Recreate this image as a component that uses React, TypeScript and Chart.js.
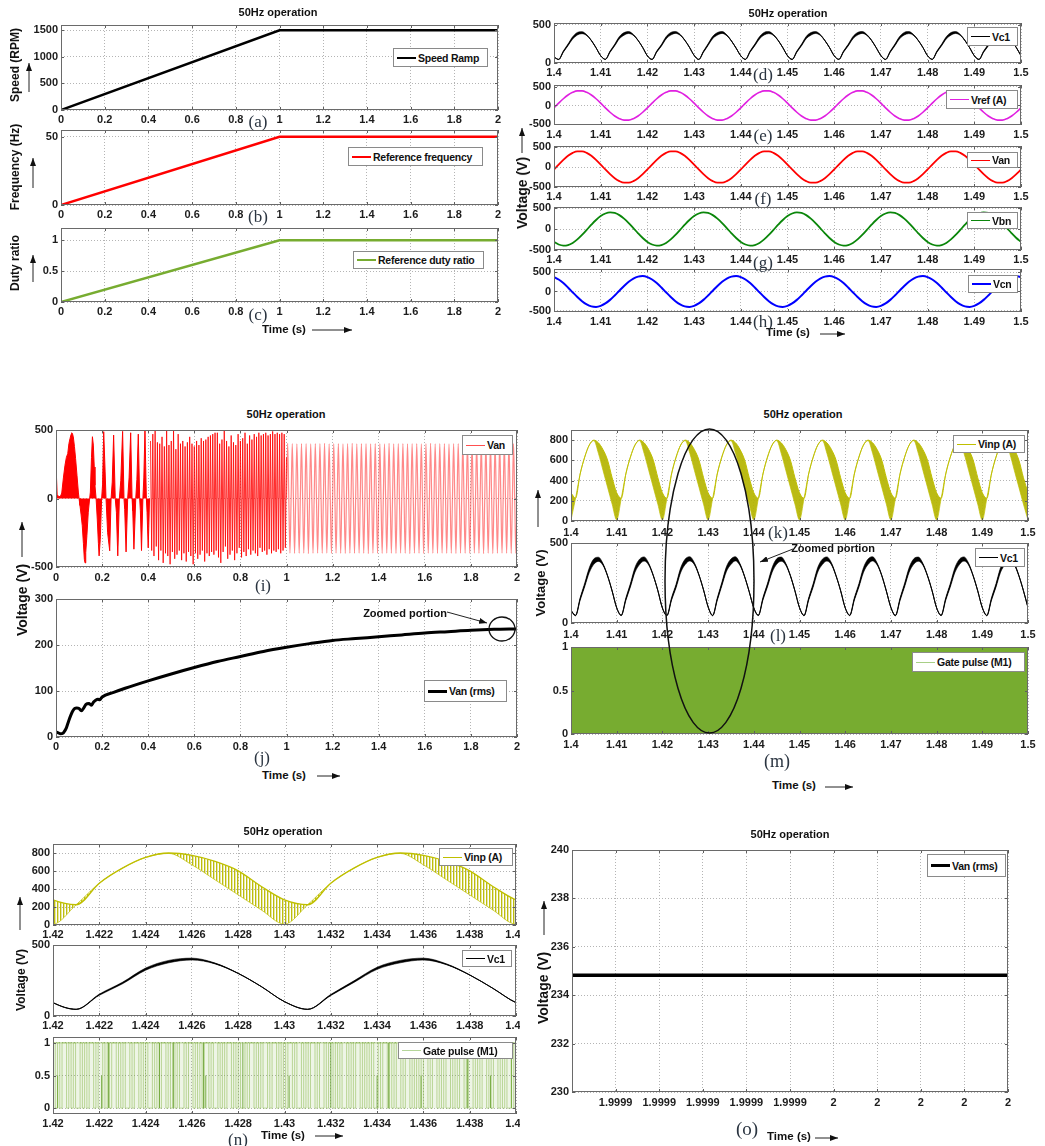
import React, { useEffect, useRef } from 'react';
import { Chart, registerables } from 'chart.js';

Chart.register(...registerables);

const SANS = "'Liberation Sans', Arial, Helvetica, sans-serif";
const SERIF = "'Liberation Serif', 'Times New Roman', serif";
Chart.defaults.font.family = SANS;

// ---------------- data ----------------
const T_RAMP = [0, 1, 2];
const SPEED_RPM = [0, 1500, 1500];
const FREQ_HZ = [0, 50, 50];
const DUTY_RATIO = [0, 1, 1];

const TICKS_0_2 = [0, 0.2, 0.4, 0.6, 0.8, 1, 1.2, 1.4, 1.6, 1.8, 2];
const LABELS_0_2 = ['0', '0.2', '0.4', '0.6', '0.8', '1', '1.2', '1.4', '1.6', '1.8', '2'];
const TICKS_14_15 = [1.4, 1.41, 1.42, 1.43, 1.44, 1.45, 1.46, 1.47, 1.48, 1.49, 1.5];
const LABELS_14_15 = ['1.4', '1.41', '1.42', '1.43', '1.44', '1.45', '1.46', '1.47', '1.48', '1.49', '1.5'];
const TICKS_142_144 = [1.42, 1.422, 1.424, 1.426, 1.428, 1.43, 1.432, 1.434, 1.436, 1.438, 1.44];
const LABELS_142_144 = ['1.42', '1.422', '1.424', '1.426', '1.428', '1.43', '1.432', '1.434', '1.436', '1.438', '1.44'];
const TICKS_O = [1.999905, 1.999915, 1.999925, 1.999935, 1.999945, 1.999955, 1.999965, 1.999975, 1.999985, 1.999995];
const LABELS_O = ['1.9999', '1.9999', '1.9999', '1.9999', '1.9999', '2', '2', '2', '2', '2'];

// sampling grid of the 1.4 - 1.5 s traces
const FINE_T0 = 1.4;
const FINE_DT = 0.001;

const VC1 = [
  78, 47, 150, 238, 330, 384, 398, 366, 295, 200,
  95, 48, 148, 236, 332, 382, 400, 368, 297, 203,
  94, 47, 150, 232, 330, 383, 401, 370, 300, 207,
  101, 47, 148, 242, 336, 383, 401, 364, 289, 195,
  94, 48, 151, 237, 331, 384, 399, 367, 296, 201,
  96, 47, 149, 236, 333, 382, 400, 369, 295, 202,
  95, 48, 150, 235, 331, 383, 401, 368, 297, 200,
  97, 47, 148, 237, 332, 384, 399, 367, 296, 203,
  95, 48, 150, 236, 330, 382, 400, 368, 295, 201,
  96, 47, 149, 235, 332, 383, 400, 369, 296, 202,
  96,
];
const VC1_RIPPLE = [
  1, 2, 8, 11, 15, 17, 13, 6, 2, 1,
  1, 2, 8, 11, 15, 17, 13, 6, 2, 1,
  1, 2, 8, 11, 15, 17, 13, 6, 2, 1,
  1, 2, 8, 11, 15, 17, 13, 6, 2, 1,
  1, 2, 8, 11, 15, 17, 13, 6, 2, 1,
  1, 2, 8, 11, 15, 17, 13, 6, 2, 1,
  1, 2, 8, 11, 15, 17, 13, 6, 2, 1,
  1, 2, 8, 11, 15, 17, 13, 6, 2, 1,
  1, 2, 8, 11, 15, 17, 13, 6, 2, 1,
  1, 2, 8, 11, 15, 17, 13, 6, 2, 1,
  1,
];
const VREF_A = [
  -63, 63, 182, 283, 356, 395, 395, 356, 283, 182, 63, -63, -182, -283, -356, -395, -395, -356, -283, -182,
  -63, 63, 182, 283, 356, 395, 395, 356, 283, 182, 63, -63, -182, -283, -356, -395, -395, -356, -283, -182,
  -63, 63, 182, 283, 356, 395, 395, 356, 283, 182, 63, -63, -182, -283, -356, -395, -395, -356, -283, -182,
  -63, 63, 182, 283, 356, 395, 395, 356, 283, 182, 63, -63, -182, -283, -356, -395, -395, -356, -283, -182,
  -63, 63, 182, 283, 356, 395, 395, 356, 283, 182, 63, -63, -182, -283, -356, -395, -395, -356, -283, -182,
  -63,
];
const VAN = [
  -62, 62, 179, 279, 352, 390, 390, 352, 279, 179, 62, -62, -179, -279, -352, -390, -390, -352, -279, -179,
  -62, 62, 179, 279, 352, 390, 390, 352, 279, 179, 62, -62, -179, -279, -352, -390, -390, -352, -279, -179,
  -62, 62, 179, 279, 352, 390, 390, 352, 279, 179, 62, -62, -179, -279, -352, -390, -390, -352, -279, -179,
  -62, 62, 179, 279, 352, 390, 390, 352, 279, 179, 62, -62, -179, -279, -352, -390, -390, -352, -279, -179,
  -62, 62, 179, 279, 352, 390, 390, 352, 279, 179, 62, -62, -179, -279, -352, -390, -390, -352, -279, -179,
  -62,
];
const VBN = [
  -307, -369, -395, -382, -331, -248, -141, -21, 102, 215, 307, 369, 395, 382, 331, 248, 141, 21, -102, -215,
  -307, -369, -395, -382, -331, -248, -141, -21, 102, 215, 307, 369, 395, 382, 331, 248, 141, 21, -102, -215,
  -307, -369, -395, -382, -331, -248, -141, -21, 102, 215, 307, 369, 395, 382, 331, 248, 141, 21, -102, -215,
  -307, -369, -395, -382, -331, -248, -141, -21, 102, 215, 307, 369, 395, 382, 331, 248, 141, 21, -102, -215,
  -307, -369, -395, -382, -331, -248, -141, -21, 102, 215, 307, 369, 395, 382, 331, 248, 141, 21, -102, -215,
  -307,
];
const VCN = [
  369, 307, 215, 102, -21, -141, -248, -331, -382, -395, -369, -307, -215, -102, 21, 141, 248, 331, 382, 395,
  369, 307, 215, 102, -21, -141, -248, -331, -382, -395, -369, -307, -215, -102, 21, 141, 248, 331, 382, 395,
  369, 307, 215, 102, -21, -141, -248, -331, -382, -395, -369, -307, -215, -102, 21, 141, 248, 331, 382, 395,
  369, 307, 215, 102, -21, -141, -248, -331, -382, -395, -369, -307, -215, -102, 21, 141, 248, 331, 382, 395,
  369, 307, 215, 102, -21, -141, -248, -331, -382, -395, -369, -307, -215, -102, 21, 141, 248, 331, 382, 395,
  369,
];
const VINP_UPPER = [
  279, 225, 465, 632, 751, 800, 773, 706, 602, 428,
  279, 225, 465, 632, 751, 800, 773, 706, 602, 428,
  279, 225, 465, 632, 751, 800, 773, 706, 602, 428,
  279, 225, 465, 632, 751, 800, 773, 706, 602, 428,
  279, 225, 465, 632, 751, 800, 773, 706, 602, 428,
  279, 225, 465, 632, 751, 800, 773, 706, 602, 428,
  279, 225, 465, 632, 751, 800, 773, 706, 602, 428,
  279, 225, 465, 632, 751, 800, 773, 706, 602, 428,
  279, 225, 465, 632, 751, 800, 773, 706, 602, 428,
  279, 225, 465, 632, 751, 800, 773, 706, 602, 428,
  279,
];
const VINP_LOWER = [
  10, 225, 465, 632, 751, 795, 669, 502, 335, 167,
  10, 225, 465, 632, 751, 795, 669, 502, 335, 167,
  10, 225, 465, 632, 751, 795, 669, 502, 335, 167,
  10, 225, 465, 632, 751, 795, 669, 502, 335, 167,
  10, 225, 465, 632, 751, 795, 669, 502, 335, 167,
  10, 225, 465, 632, 751, 795, 669, 502, 335, 167,
  10, 225, 465, 632, 751, 795, 669, 502, 335, 167,
  10, 225, 465, 632, 751, 795, 669, 502, 335, 167,
  10, 225, 465, 632, 751, 795, 669, 502, 335, 167,
  10, 225, 465, 632, 751, 795, 669, 502, 335, 167,
  10,
];

// gate pulse M1 (1.4 - 1.5 s: pulses too dense to resolve -> solid band)
const GATE_M_T = [1.4, 1.5];
const GATE_M_V = [1, 1];
// gate pulse M1, zoomed 1.42 - 1.44 s
const GATE_T0 = 1.42;
const GATE_SPAN = 0.02;
const GATE_PATTERN =
  '10101101010010101101001010110101001011010100101011010101001011010101101001010110101001011010100101101010' +
  '110100101011010010110101001010110101010010110101001011010101001011010100101011010010101101011010100101';
const GATE_DARK_T = [1.4202, 1.4221, 1.4224, 1.4246, 1.4252, 1.4265, 1.4266, 1.4282, 1.4302, 1.432, 1.434, 1.4345, 1.4359, 1.4379, 1.4389, 1.4398];
const GATE_DARK_H = [0.5, 0.5, 1, 1, 1, 1, 0.5, 1, 0.5, 1, 0.5, 1, 0.5, 1, 0.5, 1];

// Van, 0 - 2 s
const VAN_START: [number, number][] = [
  [0, 0], [0.002, 160], [0.005, 30], [0.012, 12], [0.02, 18], [0.025, 40], [0.032, 150], [0.039, 243],
  [0.045, 300], [0.051, 328], [0.056, 400], [0.061, 439], [0.066, 470], [0.068, 480], [0.071, 475],
  [0.075, 451], [0.08, 380], [0.085, 292], [0.091, 170], [0.097, 47], [0.1, 0], [0.104, -51],
  [0.109, -120], [0.114, -199], [0.119, -330], [0.123, -444], [0.126, -470], [0.129, -395], [0.134, -272],
  [0.14, -100], [0.146, 0], [0.149, 47], [0.154, 300], [0.158, 451], [0.162, 390], [0.166, 230],
  [0.169, 96], [0.174, 0], [0.179, -150], [0.184, -330], [0.187, -419], [0.192, -300], [0.198, 0],
  [0.202, 100], [0.207, 488], [0.213, 200], [0.217, 0], [0.224, -250], [0.233, -382], [0.239, 0],
  [0.244, 120], [0.25, 463], [0.257, 0], [0.262, -100], [0.268, -419], [0.275, 0], [0.281, 130],
  [0.289, 490], [0.295, 0], [0.298, -80], [0.304, -390], [0.311, 0], [0.317, 150], [0.324, 480],
  [0.33, 0], [0.333, -90], [0.338, -370], [0.346, 0], [0.351, 140], [0.357, 470], [0.363, 0],
  [0.366, -90], [0.371, -380], [0.377, 0], [0.381, 150], [0.386, 500], [0.392, 0], [0.395, -100],
  [0.4, -360], [0.406, 0],
];
const VAN_MID_T0 = 0.41;
const VAN_MID_DT = 0.005;
const VAN_MID = [
  420, -380, 470, -420, 500, -350, 410, -450, 400, -380,
  450, -470, 380, -400, 500, -420, 390, -480, 420, -390,
  500, -440, 360, -410, 470, -380, 400, -450, 420, -400,
  380, -460, 410, -390, 450, -420, 400, -480, 380, -400,
  420, -440, 390, -410, 440, -380, 420, -460, 430, -400,
  450, -420, 460, -390, 470, -410, 480, -380, 480, -430,
  400, -470, 430, -390, 500, -350, 420, -440, 380, -410,
  460, -380, 410, -450, 390, -400, 470, -360, 420, -430,
  440, -390, 480, -420, 400, -370, 460, -410, 430, -380,
  470, -400, 450, -420, 480, -360, 460, -390, 470, -380,
  480, -410, 460, -370, 470, -400, 490, -380, 470, -390,
  480, -370, 470, -400, 480, -380, 470, -360, 300,
];
const VAN_LATE_T0 = 1.0;
const VAN_LATE_DT = 0.005;
const VAN_LATE = [
  0, 402, 0, -398, 0, 400, 0, -401, 0, 399, 0, -400, 0, 401, 0, -399, 0, 400, 0, -402,
  0, 398, 0, -400, 0, 401, 0, -399, 0, 400, 0, -400, 0, 402, 0, -398, 0, 399, 0, -401,
  0, 400, 0, -399, 0, 401, 0, -400, 0, 398, 0, -401, 0, 400, 0, -399, 0, 402, 0, -400,
  0, 399, 0, -398, 0, 401, 0, -400, 0, 400, 0, -402, 0, 399, 0, -399, 0, 401, 0, -400,
  0, 400, 0, -401, 0, 398, 0, -399, 0, 402, 0, -400, 0, 399, 0, -401, 0, 400, 0, -398,
  0, 401, 0, -400, 0, 399, 0, -402, 0, 400, 0, -399, 0, 401, 0, -400, 0, 398, 0, -401,
  0, 400, 0, -399, 0, 402, 0, -400, 0, 399, 0, -401, 0, 400, 0, -398, 0, 401, 0, -400,
  0, 398, 0, -400, 0, 400, 0, -401, 0, 401, 0, -399, 0, 402, 0, -400, 0, 399, 0, -400,
  0, 401, 0, -398, 0, 400, 0, -400, 0, 399, 0, -402, 0, 400, 0, -399, 0, 401, 0, -401,
  0, 400, 0, -400, 0, 398, 0, -399, 0, 402, 0, -400, 0, 399, 0, -401, 0, 400, 0, -399,
  0,
];
const VAN_RMS: [number, number][] = [
  [0, 11], [0.01, 9], [0.02, 7], [0.03, 8], [0.035, 11], [0.045, 20], [0.055, 35], [0.064, 47],
  [0.072, 56], [0.081, 62], [0.09, 63], [0.1, 62], [0.11, 57], [0.12, 63], [0.13, 71], [0.143, 73],
  [0.153, 69], [0.163, 76], [0.172, 80], [0.182, 82], [0.19, 81], [0.2, 87], [0.25, 97], [0.3, 106],
  [0.4, 122], [0.5, 137], [0.6, 151], [0.7, 164], [0.8, 175], [0.9, 186], [1.0, 195], [1.1, 203],
  [1.2, 210], [1.3, 214], [1.4, 218], [1.5, 222], [1.6, 226], [1.7, 229], [1.8, 232], [1.9, 234], [2.0, 235],
];
const VAN_RMS_ZOOM_T = [1.999895, 1.999995];
const VAN_RMS_ZOOM = [234.82, 234.82];

// ---------------- helpers ----------------
const PT = 10;
const PR = 30;
const YW = 50;
const XH = 24;
const GRID_COLOR = '#b4b4b4';
const TICK_COLOR = '#1c1c1c';
const OLIVE = '#bfbf00';
const GATE_GREEN = '#77ac30';

const pts = (ts: number[], vs: number[]) => ts.map((t, i) => ({ x: t, y: vs[i] }));
const gridPts = (t0: number, dt: number, vs: number[]) => vs.map((v, i) => ({ x: t0 + i * dt, y: v }));
const pairPts = (p: [number, number][]) => p.map(([x, y]) => ({ x, y }));

function lineDS(data: any[], color: string, width: number, extra: any = {}) {
  return {
    data,
    borderColor: color,
    backgroundColor: color,
    borderWidth: width,
    pointRadius: 0,
    fill: false,
    cubicInterpolationMode: 'monotone',
    ...extra,
  };
}

function vc1Sets(centerW: number, rippleScale: number) {
  const up = VC1.map((v, i) => v + VC1_RIPPLE[i] * rippleScale);
  const lo = VC1.map((v, i) => v - VC1_RIPPLE[i] * rippleScale);
  return [
    lineDS(gridPts(FINE_T0, FINE_DT, up), '#000', 0.6),
    lineDS(gridPts(FINE_T0, FINE_DT, lo), '#000', 0.6, { fill: '-1', backgroundColor: '#000' }),
    lineDS(gridPts(FINE_T0, FINE_DT, VC1), '#000', centerW),
  ];
}

function hatch(): any {
  const c = document.createElement('canvas');
  c.width = 3;
  c.height = 1;
  const g = c.getContext('2d')!;
  g.fillStyle = 'rgba(185,185,0,0.95)';
  g.fillRect(0, 0, 1, 1);
  g.fillStyle = 'rgba(185,185,0,0.35)';
  g.fillRect(1, 0, 1, 1);
  return g.createPattern(c, 'repeat');
}

function vinpSets(bg: any, lw: number) {
  return [
    lineDS(gridPts(FINE_T0, FINE_DT, VINP_UPPER), OLIVE, lw),
    lineDS(gridPts(FINE_T0, FINE_DT, VINP_LOWER), OLIVE, 0.7, { fill: '-1', backgroundColor: bg }),
  ];
}

function gateZoomSets() {
  const n = GATE_PATTERN.length;
  const dt = GATE_SPAN / (n - 1);
  const pattern = GATE_PATTERN.split('').map((c, i) => ({ x: GATE_T0 + i * dt, y: c === '1' ? 1 : 0 }));
  const dark: any[] = [];
  GATE_DARK_T.forEach((t, i) => {
    dark.push({ x: t, y: 0 }, { x: t, y: GATE_DARK_H[i] }, { x: t, y: null });
  });
  return [
    lineDS(pts([GATE_T0, GATE_T0 + GATE_SPAN], [1, 1]), 'rgba(119,172,48,0.55)', 1, {
      fill: 'origin',
      backgroundColor: 'rgba(119,172,48,0.12)',
      cubicInterpolationMode: 'default',
    }),
    lineDS(pattern, 'rgba(119,172,48,0.45)', 1, { stepped: true, cubicInterpolationMode: 'default' }),
    lineDS(dark, 'rgba(100,158,45,0.85)', 1, { cubicInterpolationMode: 'default', spanGaps: false }),
  ];
}

type PanelSpec = {
  key: string;
  x: number;
  y: number;
  w: number;
  h: number;
  xMin: number;
  xMax: number;
  xTicks: number[];
  xLabels: string[];
  yMin: number;
  yMax: number;
  yTicks: number[];
  yLabels: string[];
  xPad?: number;
  datasets: () => any[];
};

const framePlugin = {
  id: 'matlabFrame',
  afterDatasetsDraw(chart: any) {
    const { ctx, chartArea: a, scales } = chart;
    ctx.save();
    ctx.strokeStyle = '#5e5e5e';
    ctx.lineWidth = 1;
    ctx.beginPath();
    for (const t of scales.x.ticks) {
      const px = Math.round(scales.x.getPixelForValue(t.value)) + 0.5;
      ctx.moveTo(px, a.bottom);
      ctx.lineTo(px, a.bottom - 3);
      ctx.moveTo(px, a.top);
      ctx.lineTo(px, a.top + 3);
    }
    for (const t of scales.y.ticks) {
      const py = Math.round(scales.y.getPixelForValue(t.value)) + 0.5;
      ctx.moveTo(a.left, py);
      ctx.lineTo(a.left + 3, py);
      ctx.moveTo(a.right, py);
      ctx.lineTo(a.right - 3, py);
    }
    ctx.stroke();
    ctx.strokeStyle = '#6a6a6a';
    ctx.strokeRect(Math.round(a.left) + 0.5, Math.round(a.top) + 0.5, Math.round(a.right - a.left) - 1, Math.round(a.bottom - a.top) - 1);
    ctx.restore();
  },
};

function buildConfig(p: PanelSpec): any {
  const font = { family: SANS, size: 11, weight: 'bold' };
  return {
    type: 'line',
    data: { datasets: p.datasets() },
    options: {
      animation: false,
      responsive: false,
      events: [],
      layout: { padding: { top: PT, right: PR, bottom: 0, left: 0 } },
      plugins: { legend: { display: false }, tooltip: { enabled: false }, title: { display: false } },
      elements: { point: { radius: 0 } },
      scales: {
        x: {
          type: 'linear',
          min: p.xMin,
          max: p.xMax,
          afterBuildTicks: (s: any) => {
            s.ticks = p.xTicks.map((v) => ({ value: v }));
          },
          afterFit: (s: any) => {
            s.height = XH;
            s.paddingLeft = 0;
            s.paddingRight = 0;
          },
          ticks: {
            autoSkip: false,
            maxRotation: 0,
            minRotation: 0,
            padding: p.xPad ?? 4,
            font,
            color: TICK_COLOR,
            callback: (_v: any, i: number) => p.xLabels[i],
          },
          grid: { color: GRID_COLOR, lineWidth: 1, drawTicks: false },
          border: { display: false, dash: [1, 2] },
        },
        y: {
          type: 'linear',
          min: p.yMin,
          max: p.yMax,
          afterBuildTicks: (s: any) => {
            s.ticks = p.yTicks.map((v) => ({ value: v }));
          },
          afterFit: (s: any) => {
            s.width = YW;
            s.paddingTop = 0;
            s.paddingBottom = 0;
          },
          ticks: {
            autoSkip: false,
            padding: 3,
            font,
            color: TICK_COLOR,
            callback: (_v: any, i: number) => p.yLabels[i],
          },
          grid: { color: GRID_COLOR, lineWidth: 1, drawTicks: false },
          border: { display: false, dash: [1, 2] },
        },
      },
    },
    plugins: [framePlugin],
  };
}

function ChartPanel({ spec }: { spec: PanelSpec }) {
  const ref = useRef<HTMLCanvasElement | null>(null);
  useEffect(() => {
    const chart = new Chart(ref.current as HTMLCanvasElement, buildConfig(spec));
    return () => chart.destroy();
  }, [spec]);
  const w = spec.w + YW + PR;
  const h = spec.h + PT + XH;
  return (
    <canvas
      ref={ref}
      width={w}
      height={h}
      style={{ position: 'absolute', left: spec.x - YW, top: spec.y - PT, width: w, height: h }}
    />
  );
}

// ---------------- panels ----------------
const TL = { x: 61, w: 437 };
const TR = { x: 554, w: 467 };
const ML = { x: 56, w: 461 };
const MR = { x: 571, w: 457 };
const BL = { x: 53, w: 463 };
const BR = { x: 572, w: 436 };

const x02 = { xMin: 0, xMax: 2, xTicks: TICKS_0_2, xLabels: LABELS_0_2 };
const x1415 = { xMin: 1.4, xMax: 1.5, xTicks: TICKS_14_15, xLabels: LABELS_14_15 };
const x142 = { xMin: 1.42, xMax: 1.44, xTicks: TICKS_142_144, xLabels: LABELS_142_144 };
const yPM500 = { yTicks: [-500, 0, 500], yLabels: ['-500', '0', '500'] };
const y0800 = { yMin: 0, yMax: 900, yTicks: [0, 200, 400, 600, 800], yLabels: ['0', '200', '400', '600', '800'] };

const LEFT_PANELS: PanelSpec[] = [
  {
    key: 'a', ...TL, y: 25, h: 85, ...x02, xPad: 3,
    yMin: 0, yMax: 1600, yTicks: [0, 500, 1000, 1500], yLabels: ['0', '500', '1000', '1500'],
    datasets: () => [lineDS(pts(T_RAMP, SPEED_RPM), '#000', 2.5, { cubicInterpolationMode: 'default' })],
  },
  {
    key: 'b', ...TL, y: 130, h: 75, ...x02, xPad: 3,
    yMin: 0, yMax: 55, yTicks: [0, 50], yLabels: ['0', '50'],
    datasets: () => [lineDS(pts(T_RAMP, FREQ_HZ), '#ff0000', 2.5, { cubicInterpolationMode: 'default' })],
  },
  {
    key: 'c', ...TL, y: 228, h: 74, ...x02, xPad: 3,
    yMin: 0, yMax: 1.2, yTicks: [0, 0.5, 1], yLabels: ['0', '0.5', '1'],
    datasets: () => [lineDS(pts(T_RAMP, DUTY_RATIO), GATE_GREEN, 2.5, { cubicInterpolationMode: 'default' })],
  },
  {
    key: 'i', ...ML, y: 430, h: 137, ...x02, xPad: 4,
    yMin: -500, yMax: 500, ...yPM500,
    datasets: () => [
      lineDS(pairPts(VAN_START), '#ff0000', 1, { fill: 'origin', backgroundColor: '#ff0000', cubicInterpolationMode: 'default' }),
      lineDS(gridPts(VAN_MID_T0, VAN_MID_DT, VAN_MID), 'rgba(255,0,0,0.8)', 1, {
        fill: 'origin',
        backgroundColor: 'rgba(255,0,0,0.3)',
        cubicInterpolationMode: 'default',
      }),
      lineDS(gridPts(VAN_LATE_T0, VAN_LATE_DT, VAN_LATE), 'rgba(255,40,40,0.55)', 1.2),
    ],
  },
  {
    key: 'j', ...ML, y: 599, h: 138, ...x02, xPad: 3,
    yMin: 0, yMax: 300, yTicks: [0, 100, 200, 300], yLabels: ['0', '100', '200', '300'],
    datasets: () => [lineDS(pairPts(VAN_RMS), '#000', 3)],
  },
  {
    key: 'n1', ...BL, y: 844, h: 81, ...x142, xPad: 3, ...y0800,
    datasets: () => vinpSets(hatch(), 1.3),
  },
  {
    key: 'n2', ...BL, y: 945, h: 71, ...x142, xPad: 3,
    yMin: 0, yMax: 500, yTicks: [0, 500], yLabels: ['0', '500'],
    datasets: () => vc1Sets(1, 0.5),
  },
  {
    key: 'n3', ...BL, y: 1037, h: 77, ...x142, xPad: 3,
    yMin: -0.09, yMax: 1.09, yTicks: [0, 0.5, 1], yLabels: ['0', '0.5', '1'],
    datasets: gateZoomSets,
  },
];

const RIGHT_PANELS: PanelSpec[] = [
  {
    key: 'd', ...TR, y: 23, h: 40, ...x1415, xPad: 3,
    yMin: 0, yMax: 525, yTicks: [0, 500], yLabels: ['0', '500'],
    datasets: () => vc1Sets(1, 1),
  },
  {
    key: 'e', ...TR, y: 85, h: 40, ...x1415, xPad: 3,
    yMin: -527, yMax: 554, ...yPM500,
    datasets: () => [lineDS(gridPts(FINE_T0, FINE_DT, VREF_A), '#e020e0', 1.6)],
  },
  {
    key: 'f', ...TR, y: 146, h: 41, ...x1415, xPad: 3,
    yMin: -500, yMax: 525, ...yPM500,
    datasets: () => [lineDS(gridPts(FINE_T0, FINE_DT, VAN), '#ff0000', 1.8)],
  },
  {
    key: 'g', ...TR, y: 207, h: 43, ...x1415, xPad: 3,
    yMin: -500, yMax: 524, ...yPM500,
    datasets: () => [lineDS(gridPts(FINE_T0, FINE_DT, VBN), '#0a860a', 1.8)],
  },
  {
    key: 'h', ...TR, y: 269, h: 43, ...x1415, xPad: 3,
    yMin: -526, yMax: 577, ...yPM500,
    datasets: () => [lineDS(gridPts(FINE_T0, FINE_DT, VCN), '#0000ff', 2)],
  },
  {
    key: 'k', ...MR, y: 430, h: 91, ...x1415, xPad: 5, ...y0800,
    datasets: () => vinpSets('rgba(180,180,0,0.92)', 1),
  },
  {
    key: 'l', ...MR, y: 543, h: 80, ...x1415, xPad: 5,
    yMin: 0, yMax: 500, yTicks: [0, 500], yLabels: ['0', '500'],
    datasets: () => vc1Sets(1, 1),
  },
  {
    key: 'm', ...MR, y: 647, h: 87, ...x1415, xPad: 4,
    yMin: 0, yMax: 1, yTicks: [0, 0.5, 1], yLabels: ['0', '0.5', '1'],
    datasets: () => [
      lineDS(pts(GATE_M_T, GATE_M_V), GATE_GREEN, 1, { fill: 'origin', backgroundColor: GATE_GREEN, cubicInterpolationMode: 'default' }),
    ],
  },
  {
    key: 'o', ...BR, y: 850, h: 242, xMin: 1.999895, xMax: 1.999995, xTicks: TICKS_O, xLabels: LABELS_O, xPad: 4,
    yMin: 230, yMax: 240, yTicks: [230, 232, 234, 236, 238, 240], yLabels: ['230', '232', '234', '236', '238', '240'],
    datasets: () => [lineDS(pts(VAN_RMS_ZOOM_T, VAN_RMS_ZOOM), '#000', 3.5, { cubicInterpolationMode: 'default' })],
  },
];

// ---------------- annotations ----------------
type LegendSpec = { x1: number; y1: number; x2: number; y2: number; label: string; color: string; lw: number; len?: number };
const LEGENDS: LegendSpec[] = [
  { x1: 393, y1: 48, x2: 488, y2: 67, label: 'Speed Ramp', color: '#000', lw: 2.5 },
  { x1: 348, y1: 147, x2: 483, y2: 166, label: 'Reference frequency', color: '#ff0000', lw: 2.5 },
  { x1: 353, y1: 251, x2: 484, y2: 269, label: 'Reference duty ratio', color: GATE_GREEN, lw: 2.5 },
  { x1: 967, y1: 27, x2: 1018, y2: 46, label: 'Vc1', color: '#000', lw: 1 },
  { x1: 946, y1: 90, x2: 1018, y2: 109, label: 'Vref (A)', color: '#e020e0', lw: 1.5 },
  { x1: 967, y1: 152, x2: 1018, y2: 168, label: 'Van', color: '#ff0000', lw: 1.5 },
  { x1: 967, y1: 212, x2: 1018, y2: 229, label: 'Vbn', color: '#0a860a', lw: 1.5 },
  { x1: 968, y1: 275, x2: 1018, y2: 293, label: 'Vcn', color: '#0000ff', lw: 2 },
  { x1: 462, y1: 435, x2: 513, y2: 455, label: 'Van', color: '#ff5050', lw: 1 },
  { x1: 424, y1: 680, x2: 507, y2: 702, label: 'Van (rms)', color: '#000', lw: 3 },
  { x1: 953, y1: 435, x2: 1025, y2: 453, label: 'Vinp (A)', color: OLIVE, lw: 1.2 },
  { x1: 975, y1: 548, x2: 1025, y2: 567, label: 'Vc1', color: '#000', lw: 1 },
  { x1: 912, y1: 652, x2: 1025, y2: 672, label: 'Gate pulse (M1)', color: '#a8cf86', lw: 1 },
  { x1: 439, y1: 848, x2: 513, y2: 866, label: 'Vinp (A)', color: OLIVE, lw: 1.5 },
  { x1: 462, y1: 950, x2: 512, y2: 967, label: 'Vc1', color: '#000', lw: 1 },
  { x1: 398, y1: 1042, x2: 513, y2: 1059, label: 'Gate pulse (M1)', color: '#b5d69a', lw: 1 },
  { x1: 927, y1: 854, x2: 1006, y2: 877, label: 'Van (rms)', color: '#000', lw: 3 },
];

type TextSpec = { x: number; y: number; t: string; size: number; serif?: boolean; rot?: number; bold?: boolean };
const TEXTS: TextSpec[] = [
  // titles
  { x: 278, y: 12, t: '50Hz operation', size: 11 },
  { x: 788, y: 13, t: '50Hz operation', size: 11 },
  { x: 286, y: 414, t: '50Hz operation', size: 11 },
  { x: 803, y: 414, t: '50Hz operation', size: 11 },
  { x: 283, y: 831, t: '50Hz operation', size: 11 },
  { x: 790, y: 834, t: '50Hz operation', size: 11 },
  // time labels
  { x: 284, y: 330, t: 'Time (s)', size: 11.5 },
  { x: 788, y: 333, t: 'Time (s)', size: 11.5 },
  { x: 284, y: 776, t: 'Time (s)', size: 11.5 },
  { x: 794, y: 786, t: 'Time (s)', size: 11.5 },
  { x: 283, y: 1136, t: 'Time (s)', size: 11.5 },
  { x: 789, y: 1137, t: 'Time (s)', size: 11.5 },
  // y labels
  { x: 15, y: 65, t: 'Speed (RPM)', size: 12, rot: -90 },
  { x: 15, y: 167, t: 'Frequency (Hz)', size: 12, rot: -90 },
  { x: 15, y: 263, t: 'Duty ratio', size: 12, rot: -90 },
  { x: 522, y: 193, t: 'Voltage (V)', size: 14, rot: -90 },
  { x: 22, y: 600, t: 'Voltage (V)', size: 14, rot: -90 },
  { x: 540, y: 583, t: 'Voltage (V)', size: 13, rot: -90 },
  { x: 21, y: 980, t: 'Voltage (V)', size: 12, rot: -90 },
  { x: 543, y: 988, t: 'Voltage (V)', size: 14, rot: -90 },
  // annotations
  { x: 405, y: 613, t: 'Zoomed portion', size: 11 },
  { x: 833, y: 548, t: 'Zoomed portion', size: 11 },
  // subplot letters
  { x: 258, y: 121, t: '(a)', size: 17, serif: true, bold: false },
  { x: 258, y: 216, t: '(b)', size: 17, serif: true, bold: false },
  { x: 258, y: 314, t: '(c)', size: 17, serif: true, bold: false },
  { x: 763, y: 74, t: '(d)', size: 17, serif: true, bold: false },
  { x: 763, y: 135, t: '(e)', size: 17, serif: true, bold: false },
  { x: 763, y: 198, t: '(f)', size: 17, serif: true, bold: false },
  { x: 763, y: 262, t: '(g)', size: 17, serif: true, bold: false },
  { x: 763, y: 321, t: '(h)', size: 17, serif: true, bold: false },
  { x: 263, y: 585, t: '(i)', size: 17, serif: true, bold: false },
  { x: 262, y: 757, t: '(j)', size: 17, serif: true, bold: false },
  { x: 778, y: 532, t: '(k)', size: 17, serif: true, bold: false },
  { x: 778, y: 635, t: '(l)', size: 17, serif: true, bold: false },
  { x: 777, y: 761, t: '(m)', size: 18, serif: true, bold: false },
  { x: 238, y: 1139, t: '(n)', size: 17, serif: true, bold: false },
  { x: 747, y: 1128, t: '(o)', size: 19, serif: true, bold: false },
];

const ARROWS: [number, number, number, number][] = [
  [312, 330, 352, 330],
  [820, 334, 845, 334],
  [317, 776, 340, 776],
  [825, 787, 853, 787],
  [315, 1136, 343, 1136],
  [815, 1138, 838, 1138],
  [29, 92, 29, 63],
  [33, 188, 33, 158],
  [33, 282, 33, 255],
  [522, 153, 522, 128],
  [22, 557, 22, 522],
  [538, 527, 538, 490],
  [20, 930, 20, 897],
  [544, 935, 544, 901],
  [447, 612, 487, 623],
  [793, 549, 760, 562],
];

function Legend({ l }: { l: LegendSpec }) {
  return (
    <div
      style={{
        position: 'absolute',
        left: l.x1,
        top: l.y1,
        width: l.x2 - l.x1,
        height: l.y2 - l.y1,
        boxSizing: 'border-box',
        border: '1px solid #8a8a8a',
        background: '#fff',
        display: 'flex',
        alignItems: 'center',
        paddingLeft: 3,
        fontFamily: SANS,
        fontWeight: 700,
        fontSize: 10.5,
        letterSpacing: -0.25,
        whiteSpace: 'nowrap',
        color: '#111',
        overflow: 'hidden',
      }}
    >
      <span style={{ display: 'inline-block', width: l.len ?? 19, height: 0, borderTop: `${l.lw}px solid ${l.color}`, marginRight: 2, flex: 'none' }} />
      <span>{l.label}</span>
    </div>
  );
}

function Txt({ s }: { s: TextSpec }) {
  return (
    <div
      style={{
        position: 'absolute',
        left: s.x,
        top: s.y,
        transform: `translate(-50%, -50%) rotate(${s.rot ?? 0}deg)`,
        fontFamily: s.serif ? SERIF : SANS,
        fontWeight: s.bold === false ? 400 : 700,
        fontSize: s.size,
        lineHeight: 1,
        whiteSpace: 'nowrap',
        color: s.serif ? '#2a3440' : '#111',
      }}
    >
      {s.t}
    </div>
  );
}

export default function App() {
  useEffect(() => {
    document.body.style.margin = '0';
  }, []);
  return (
    <div style={{ position: 'absolute', left: 0, top: 0, width: 1045, height: 1146, overflow: 'hidden', background: '#fff' }}>
      <div style={{ position: 'absolute', left: 0, top: 0, width: 520, height: 1146, overflow: 'hidden' }}>
        {LEFT_PANELS.map((p) => (
          <ChartPanel key={p.key} spec={p} />
        ))}
      </div>
      {RIGHT_PANELS.map((p) => (
        <ChartPanel key={p.key} spec={p} />
      ))}
      {LEGENDS.map((l, i) => (
        <Legend key={i} l={l} />
      ))}
      {TEXTS.map((s, i) => (
        <Txt key={i} s={s} />
      ))}
      <svg width={1045} height={1146} style={{ position: 'absolute', left: 0, top: 0, pointerEvents: 'none' }}>
        <defs>
          <marker id="ah" markerWidth="8" markerHeight="6" refX="8" refY="3" orient="auto" markerUnits="userSpaceOnUse">
            <path d="M0,0 L8,3 L0,6 z" fill="#111" />
          </marker>
        </defs>
        {ARROWS.map(([x1, y1, x2, y2], i) => (
          <line key={i} x1={x1} y1={y1} x2={x2} y2={y2} stroke="#222" strokeWidth={1} markerEnd="url(#ah)" />
        ))}
        <ellipse cx={502} cy={629} rx={13} ry={12} fill="none" stroke="#111" strokeWidth={1.3} />
        <ellipse cx={709.5} cy={581} rx={44.5} ry={152} fill="none" stroke="#111" strokeWidth={1.5} />
      </svg>
    </div>
  );
}
